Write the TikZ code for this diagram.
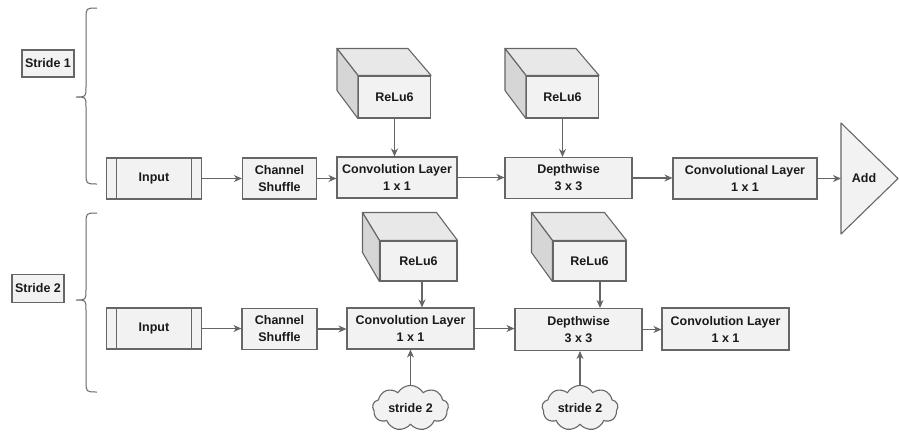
\documentclass[tikz,border=0pt]{standalone}
\usepackage{fontspec}
\setmainfont{Liberation Sans}
\usetikzlibrary{arrows.meta,shapes.symbols}
\definecolor{boxfill}{HTML}{F2F2F2}
\definecolor{linegray}{HTML}{666666}
\definecolor{sidegray}{HTML}{D6D6D6}
\definecolor{topgray}{HTML}{E8E8E8}
\definecolor{txt}{HTML}{1A1A1A}
\tikzset{
  blk/.style={draw=linegray, fill=boxfill, line width=1.1pt, rectangle, inner sep=0pt,
    align=center, text=txt, font=\bfseries\fontsize{12.5}{17}\selectfont},
  inbox/.style={blk, path picture={
    \draw[linegray, line width=1.1pt] ([xshift=10pt]path picture bounding box.north west) -- ([xshift=10pt]path picture bounding box.south west);
    \draw[linegray, line width=1.1pt] ([xshift=-10pt]path picture bounding box.north east) -- ([xshift=-10pt]path picture bounding box.south east);}},
  cubeface/.style={blk, minimum width=72pt, minimum height=42pt},
  cloudbox/.style={cloud, cloud puffs=9, cloud puff arc=120, aspect=1.8, draw=linegray, fill=boxfill,
    line width=1.1pt, text=txt, font=\bfseries\fontsize{12.5}{17}\selectfont,
    minimum width=76pt, minimum height=43pt, inner sep=0pt},
  arr/.style={draw=linegray, line width=1.1pt, -{Stealth[length=8pt,width=7pt,inset=2.5pt]}},
  bracestyle/.style={draw=linegray, line width=1pt},
}
\newcommand{\mycube}[1]{%
  \filldraw[fill=topgray, draw=linegray, line width=1.1pt, line join=round]
    (#1.north west) -- ++(-21,-27) -- ++(71,0) -- (#1.north east) -- cycle;
  \filldraw[fill=sidegray, draw=linegray, line width=1.1pt, line join=round]
    (#1.north west) -- ++(-21,-27) -- ++(0,42) -- (#1.south west) -- cycle;
}
\begin{document}
\begin{tikzpicture}[x=1pt,y=-1pt]
\useasboundingbox (0,0) rectangle (899,432);

% Stride labels and braces
\node[blk, minimum width=52pt, minimum height=27pt] (s1) at (48,63.5) {Stride 1};
\node[blk, minimum width=52pt, minimum height=28pt] (s2) at (38,288.5) {Stride 2};
\draw[bracestyle] (97,8) .. controls (86,8) .. (86,19) -- (86,87) .. controls (86,97) .. (76,97)
  .. controls (86,97) .. (86,107) -- (86,173) .. controls (86,184) .. (97,184);
\draw[bracestyle] (97,213) .. controls (86,213) .. (86,224) -- (86,290) .. controls (86,300) .. (76,300)
  .. controls (86,300) .. (86,310) -- (86,381) .. controls (86,392) .. (97,392);

% Row 1
\node[inbox, minimum width=95pt, minimum height=41pt] (in1) at (154,178.5) {Input};
\node[blk, minimum width=74pt, minimum height=41pt] (sh1) at (279.5,178.5) {Channel\\Shuffle};
\node[blk, minimum width=120pt, minimum height=41pt] (cv1) at (397,177.5) {Convolution Layer\\1 x 1};
\node[blk, minimum width=127pt, minimum height=41pt] (dw1) at (568.5,178) {Depthwise\\3 x 3};
\node[blk, minimum width=144pt, minimum height=41pt] (cv3) at (745,178.5) {Convolutional Layer\\1 x 1};
\filldraw[fill=boxfill, draw=linegray, line width=1.1pt, line join=round] (841,123) -- (898,178.5) -- (841,234) -- cycle;
\node[text=txt, font=\bfseries\fontsize{12.5}{17}\selectfont] (add) at (864,178.5) {Add};
\coordinate (addin) at (841,178.5);

\node[cubeface] (r1) at (394.5,97) {ReLu6};
\mycube{r1}
\node[cubeface] (r2) at (562.5,97) {ReLu6};
\mycube{r2}

\draw[arr] (in1) -- (sh1);
\draw[arr] (sh1) -- (cv1.west |- sh1);
\draw[arr] (cv1) -- (dw1.west |- cv1);
\draw[arr] (dw1) -- (cv3.west |- dw1);
\draw[arr] (cv3) -- (addin);
\draw[arr] (r1.south) -- (r1.south |- cv1.north);
\draw[arr] (r2.south) -- (r2.south |- dw1.north);

% Row 2
\node[inbox, minimum width=95pt, minimum height=41pt] (in2) at (154,328.5) {Input};
\node[blk, minimum width=75pt, minimum height=41pt] (sh2) at (279.5,329) {Channel\\Shuffle};
\node[blk, minimum width=127pt, minimum height=41pt] (cv2) at (410.5,328.5) {Convolution Layer\\1 x 1};
\node[blk, minimum width=127pt, minimum height=42pt] (dw2) at (578.5,329.5) {Depthwise\\3 x 3};
\node[blk, minimum width=127pt, minimum height=42pt] (cv4) at (725.5,329) {Convolution Layer\\1 x 1};

\node[cubeface, minimum width=77pt, minimum height=40pt] (r3) at (418.5,261) {ReLu6};
\filldraw[fill=topgray, draw=linegray, line width=1.1pt, line join=round]
    (r3.north west) -- ++(-17,-28) -- ++(74,0) -- (r3.north east) -- cycle;
\filldraw[fill=sidegray, draw=linegray, line width=1.1pt, line join=round]
    (r3.north west) -- ++(-17,-28) -- ++(0,40) -- (r3.south west) -- cycle;
\node[cubeface, minimum width=73pt, minimum height=40pt] (r4) at (589.5,261) {ReLu6};
\filldraw[fill=topgray, draw=linegray, line width=1.1pt, line join=round]
    (r4.north west) -- ++(-21,-28) -- ++(73,0) -- (r4.north east) -- cycle;
\filldraw[fill=sidegray, draw=linegray, line width=1.1pt, line join=round]
    (r4.north west) -- ++(-21,-28) -- ++(0,40) -- (r4.south west) -- cycle;

\node[cloudbox] (cl1) at (410.5,408) {stride 2};
\node[cloudbox] (cl2) at (580,408) {stride 2};

\draw[arr] (in2) -- (sh2.west |- in2);
\draw[arr] (sh2) -- (cv2.west |- sh2);
\draw[arr] (cv2) -- (dw2.west |- cv2);
\draw[arr] (dw2) -- (cv4.west |- dw2);
\draw[arr] (r3.south -| 422,0) -- (422,0 |- cv2.north);
\draw[arr] (r4.south -| 600,0) -- (600,0 |- dw2.north);
\draw[arr] (cl1.north) -- (cl1.north |- cv2.south);
\draw[arr] (cl2.north) -- (cl2.north |- dw2.south);
\end{tikzpicture}
\end{document}
